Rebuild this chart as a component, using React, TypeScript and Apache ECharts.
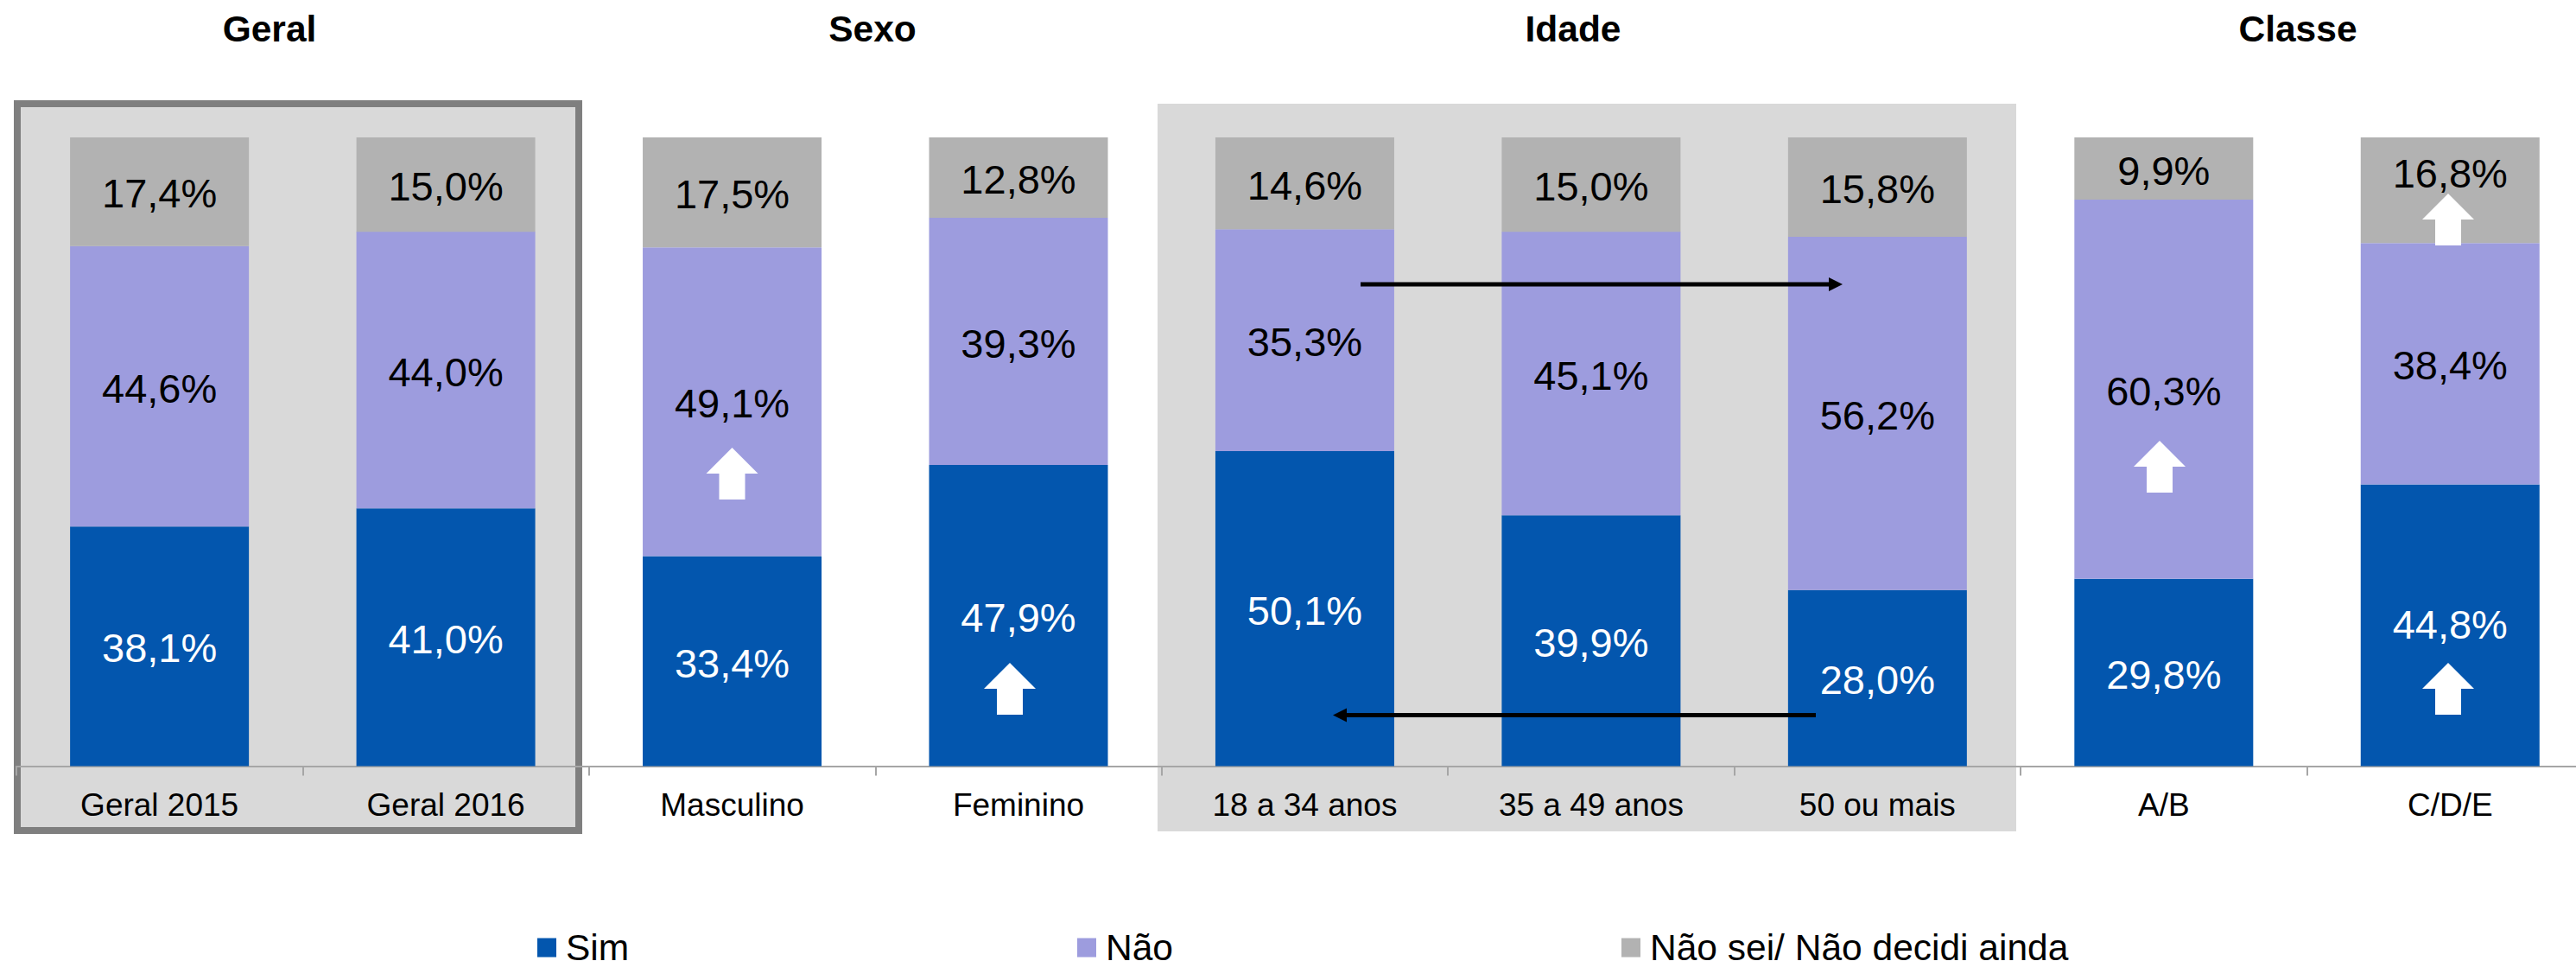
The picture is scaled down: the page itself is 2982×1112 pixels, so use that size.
import React, { useEffect, useRef } from "react";
import * as echarts from "echarts";

const categories = ["Geral 2015", "Geral 2016", "Masculino", "Feminino", "18 a 34 anos", "35 a 49 anos", "50 ou mais", "A/B", "C/D/E"];
const sim = [38.1, 41.0, 33.4, 47.9, 50.1, 39.9, 28.0, 29.8, 44.8];
const nao = [44.6, 44.0, 49.1, 39.3, 35.3, 45.1, 56.2, 60.3, 38.4];
const naoSei = [17.4, 15.0, 17.5, 12.8, 14.6, 15.0, 15.8, 9.9, 16.8];
const groupTitles = ["Geral", "Sexo", "Idade", "Classe"];
const seriesNames = ["Sim", "Não", "Não sei/ Não decidi ainda"];

const BLUE = "#0356AE";
const PURPLE = "#9D9CDE";
const GRAY = "#B2B2B2";
const FONT = '"Liberation Sans", Arial, sans-serif';

const fmt = (p: any) => {
  const v = typeof p.value === "object" ? p.value.value : p.value;
  return Number(v).toFixed(1).replace(".", ",") + "%";
};

const upArrow = (cx: number, tip: number) => ({
  type: "polygon",
  z: 10,
  shape: {
    points: [
      [cx, tip],
      [cx + 30, tip + 30],
      [cx + 15, tip + 30],
      [cx + 15, tip + 60],
      [cx - 15, tip + 60],
      [cx - 15, tip + 30],
      [cx - 30, tip + 30],
    ],
  },
  style: { fill: "#fff" },
});

const hArrow = (x1: number, x2: number, y: number) => {
  const d = x2 > x1 ? 1 : -1;
  return [
    { type: "line", z: 10, shape: { x1, y1: y, x2: x2 - d * 14, y2: y }, style: { stroke: "#000", lineWidth: 5 } },
    {
      type: "polygon",
      z: 10,
      shape: { points: [[x2, y], [x2 - d * 16, y - 8], [x2 - d * 16, y + 8]] },
      style: { fill: "#000" },
    },
  ];
};

export default function App() {
  const ref = useRef<HTMLDivElement>(null);
  useEffect(() => {
    document.body.style.margin = "0";
    const chart = echarts.init(ref.current!, undefined, { renderer: "svg" });
    const bar = (name: string, data: any[], color: string, labelColor: string) => ({
      name,
      type: "bar",
      stack: "total",
      barWidth: 207,
      data,
      itemStyle: { color },
      label: {
        show: true,
        position: "inside",
        formatter: fmt,
        color: labelColor,
        fontFamily: FONT,
        fontSize: 47,
        offset: [0, 2],
      },
    });
    const lastCat = categories.length - 1;
    chart.setOption({
      animation: false,
      backgroundColor: "#fff",
      title: groupTitles.map((text, i) => ({
        text,
        left: [312, 1010, 1821, 2660][i],
        top: 12,
        padding: 0,
        textAlign: "center",
        textStyle: { fontFamily: FONT, fontSize: 42.5, fontWeight: "bold", color: "#000" },
      })),
      legend: seriesNames.map((name, i) => ({
        data: [name],
        left: [622, 1247, 1877][i],
        top: 1075,
        padding: 0,
        itemWidth: 22,
        itemHeight: 22,
        icon: "rect",
        selectedMode: false,
        textStyle: { fontFamily: FONT, fontSize: 42.5, color: "#000", padding: [0, 0, 0, 6] },
      })),
      grid: { left: 18.9, top: 159, right: 0, height: 727.5, containLabel: false },
      xAxis: {
        type: "category",
        data: categories,
        axisLine: { lineStyle: { color: "#A6A6A6", width: 2 } },
        axisTick: { show: true, length: 11, lineStyle: { color: "#A6A6A6", width: 2 } },
        axisLabel: { color: "#000", fontFamily: FONT, fontSize: 37, margin: 26, interval: 0 },
      },
      yAxis: { type: "value", min: 0, max: 100, show: false, splitLine: { show: false } },
      series: [
        bar(
          seriesNames[0],
          sim.map((v, i) => (i === lastCat ? { value: v, label: { offset: [0, -1] } } : v)),
          BLUE,
          "#fff"
        ),
        bar(seriesNames[1], nao, PURPLE, "#000"),
        bar(
          seriesNames[2],
          naoSei.map((v, i) => (i === lastCat ? { value: v, label: { offset: [0, -20] } } : v)),
          GRAY,
          "#000"
        ),
      ],
      graphic: {
        elements: [
          {
            type: "rect",
            z: -1,
            shape: { x: 20, y: 120, width: 650, height: 841 },
            style: { fill: "#D9D9D9", stroke: "#7F7F7F", lineWidth: 8 },
          },
          {
            type: "rect",
            z: -1,
            shape: { x: 1340, y: 120, width: 994, height: 842 },
            style: { fill: "#D9D9D9" },
          },
          upArrow(847.5, 518),
          upArrow(1169, 767),
          upArrow(2500, 510),
          upArrow(2834, 224),
          upArrow(2834, 767),
          ...hArrow(1575, 2133, 329),
          ...hArrow(2102, 1543, 827.5),
        ],
      },
    });
    return () => chart.dispose();
  }, []);
  return (
    <div style={{ position: "absolute", left: 0, top: 0, width: 2982, height: 1112, overflow: "hidden" }}>
      <div ref={ref} style={{ width: 3001.95, height: 1112 }} />
    </div>
  );
}
